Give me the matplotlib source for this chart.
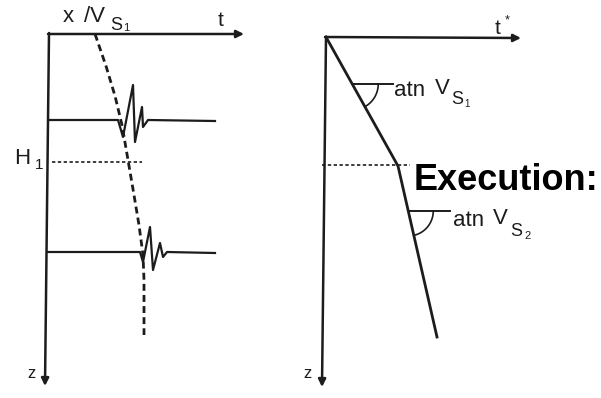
import numpy as np
import matplotlib.pyplot as plt

plt.rcParams['font.family'] = ['Liberation Sans', 'DejaVu Sans']

# arrival time curve x/Vs (left panel), depth grows downward
curve_x = [95, 106, 115, 122, 128, 134, 139, 143, 144, 144]
curve_z = [34, 66, 96, 125, 160, 195, 225, 255, 280, 335]

# recorded traces at two depths
trace1_x = [49, 118, 123, 133, 135, 142, 143, 148, 215]
trace1_z = [120, 120, 137, 85, 142, 107, 127, 120, 121]
trace2_x = [48, 140, 143, 150, 153, 160, 163, 167, 215]
trace2_z = [252, 252, 262, 227, 270, 243, 257, 252, 253]

# travel time t* vs depth (right panel), kink at layer boundary H1
tstar_x = [326, 398, 437]
tstar_z = [37, 166, 337]

ink = '#1c1c1c'

fig = plt.figure(figsize=(6.01, 3.98), dpi=100)
ax = fig.add_axes([0, 0, 1, 1])
ax.set_xlim(0, 601)
ax.set_ylim(398, 0)
ax.axis('off')

def arrow(x0, y0, x1, y1):
    ax.annotate('', xy=(x1, y1), xytext=(x0, y0),
                arrowprops=dict(arrowstyle='-|>', lw=1.8, color=ink,
                                mutation_scale=11, shrinkA=0, shrinkB=0))

def label(x, y, s, size, **kw):
    ax.text(x, y, s, fontsize=size, ha='left', va='center', color=ink, **kw)

# left panel axes
arrow(48, 34, 244, 34)
arrow(49, 33, 45, 386)
ax.text(221, 21, 't', fontsize=15, ha='center', va='center', color=ink)
label(63, 17, 'x', 16)
label(84, 16, '/V', 16)
label(110, 26, 'S', 13)
label(123, 28, '1', 8)
ax.text(31, 373, 'z', fontsize=12, ha='center', va='center', color=ink)
label(14, 159, 'H', 16)
label(35, 165, '1', 11)

ax.plot(trace1_x, trace1_z, color=ink, lw=1.6)
ax.plot(trace2_x, trace2_z, color=ink, lw=1.6)
ax.plot(curve_x, curve_z, color=ink, lw=2.0, ls=(0, (2.5, 1.5)))
ax.plot([52, 142], [162, 162], color=ink, lw=1.2, ls=(0, (2, 1.5)))

# right panel axes
arrow(325, 37, 521, 38)
arrow(326, 37, 322, 387)
ax.text(498, 28, 't', fontsize=15, ha='center', va='center', color=ink)
ax.text(507, 20, '*', fontsize=9, ha='center', va='center', color=ink)
ax.text(308, 373, 'z', fontsize=12, ha='center', va='center', color=ink)

ax.plot(tstar_x, tstar_z, color=ink, lw=2.0)
ax.plot([322, 410], [165, 165], color=ink, lw=1.2, ls=(0, (2, 1.5)))

# slope angle markers
def angle_mark(zh, x_end, r):
    (xa, za), (xb, zb) = (tstar_x[0], tstar_z[0]), (tstar_x[1], tstar_z[1])
    if zh > tstar_z[1]:
        (xa, za), (xb, zb) = (tstar_x[1], tstar_z[1]), (tstar_x[2], tstar_z[2])
    cx = xa + (xb - xa) * (zh - za) / (zb - za)
    ax.plot([cx, x_end], [zh, zh], color=ink, lw=1.4)
    theta = np.arctan2(zb - za, xb - xa)
    a = np.linspace(0, theta, 30)
    ax.plot(cx + r * np.cos(a), zh + r * np.sin(a), color=ink, lw=1.2)

angle_mark(84, 393, 26)
angle_mark(211, 450, 25)
label(394, 90, 'atn', 16)
label(435, 89, 'V', 16)
label(451, 100, 'S', 13)
label(464, 104, '1', 7)
label(453, 220, 'atn', 16)
label(493, 219, 'V', 16)
label(510, 232, 'S', 13)
label(524, 236, '2', 8)

ax.text(414, 190, 'Execution:', fontsize=26, fontweight='bold', ha='left',
        va='baseline', color='black')

fig.savefig('out.png', dpi=100)
